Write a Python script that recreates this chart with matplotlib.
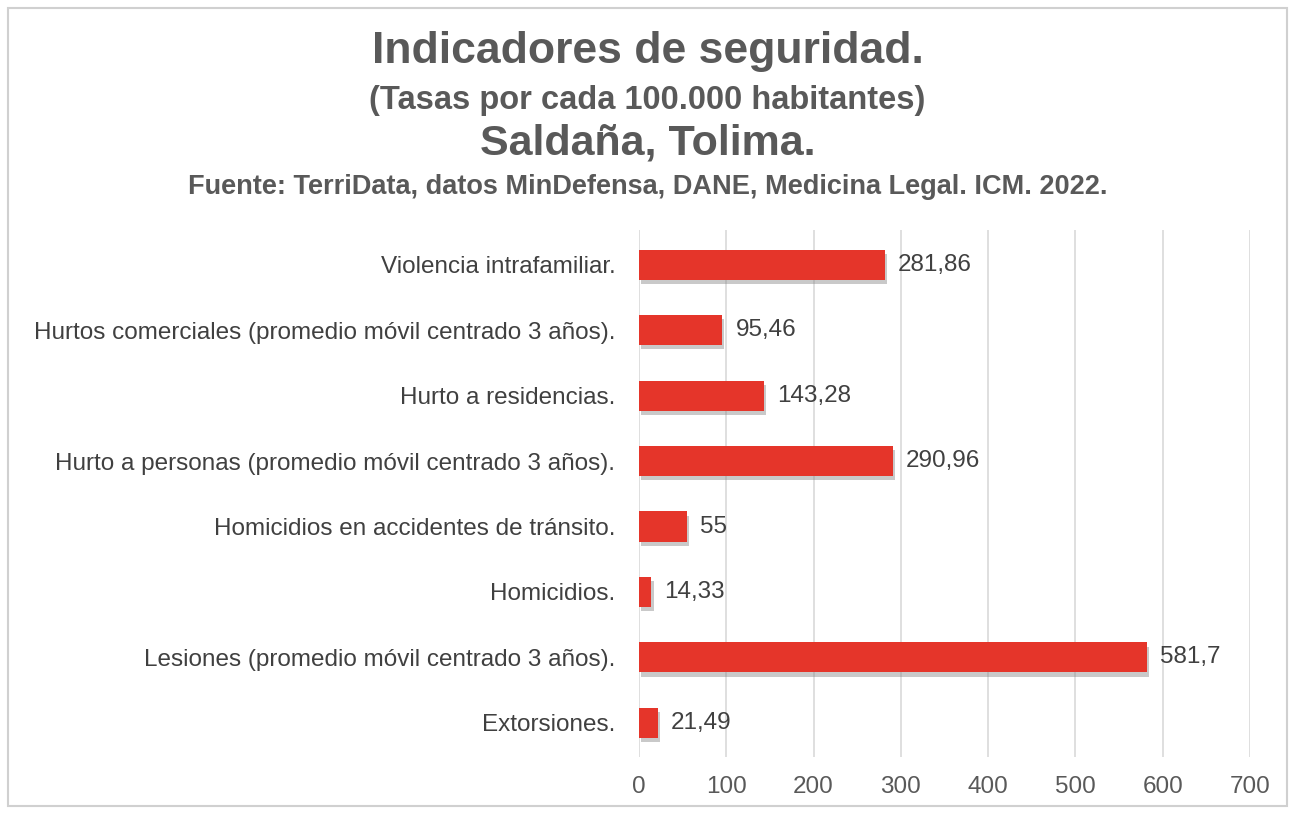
import matplotlib
matplotlib.use("Agg")
import matplotlib.pyplot as plt
import matplotlib.patheffects as pe
from matplotlib.patches import Rectangle

plt.rcParams['font.family'] = ['Liberation Sans', 'DejaVu Sans']

categorias = [
    "Violencia intrafamiliar.",
    "Hurtos comerciales (promedio móvil centrado 3 años).",
    "Hurto a residencias.",
    "Hurto a personas (promedio móvil centrado 3 años).",
    "Homicidios en accidentes de tránsito.",
    "Homicidios.",
    "Lesiones (promedio móvil centrado 3 años).",
    "Extorsiones.",
]
valores = [281.86, 95.46, 143.28, 290.96, 55, 14.33, 581.7, 21.49]
etiquetas = ["281,86", "95,46", "143,28", "290,96", "55", "14,33", "581,7", "21,49"]
ticks_x = [0, 100, 200, 300, 400, 500, 600, 700]

fig = plt.figure(figsize=(12.95, 8.13), dpi=100)
ax = fig.add_axes([0.4934, 0.069, 0.4719, 0.648])

pos = list(range(len(categorias)))
bars = ax.barh(pos, valores, height=0.46, color='#E5352A', zorder=3)
for b in bars:
    b.set_path_effects([pe.SimplePatchShadow(offset=(1.5, -3), shadow_rgbFace='#888888', alpha=0.45), pe.Normal()])

for p, v, t in zip(pos, valores, etiquetas):
    ax.text(v + 15, p, t, va='center', ha='left', fontsize=17.5, color='#404040')

ax.set_yticks(pos)
ax.set_yticklabels(categorias, fontsize=17.5, color='#404040')
ax.set_ylim(7.52, -0.53)
ax.set_xlim(0, 700)
ax.set_xticks(ticks_x)
ax.set_xticklabels([str(t) for t in ticks_x], fontsize=17.5, color='#595959')
ax.tick_params(axis='y', length=0, pad=17)
ax.tick_params(axis='x', length=0, pad=14)
ax.grid(axis='x', color='#D9D9D9', linewidth=1.2, zorder=0)
for s in ax.spines.values():
    s.set_visible(False)

fig.text(0.5, 1 - 52/813, "Indicadores de seguridad.", ha='center', va='center',
         fontsize=32, fontweight='bold', color='#595959')
fig.text(0.5, 1 - 100/813, "(Tasas por cada 100.000 habitantes)", ha='center', va='center',
         fontsize=23.5, fontweight='bold', color='#595959')
fig.text(0.5, 1 - 143/813, "Saldaña, Tolima.", ha='center', va='center',
         fontsize=31, fontweight='bold', color='#595959')
fig.text(0.5, 1 - 187/813, "Fuente: TerriData, datos MinDefensa, DANE, Medicina Legal. ICM. 2022.",
         ha='center', va='center', fontsize=19.5, fontweight='bold', color='#595959')

fig.patches.append(Rectangle((0.006, 0.008), 0.988, 0.982, transform=fig.transFigure,
                             fill=False, edgecolor='#D0D0D0', linewidth=1.5))

fig.savefig("out.png", dpi=100)
